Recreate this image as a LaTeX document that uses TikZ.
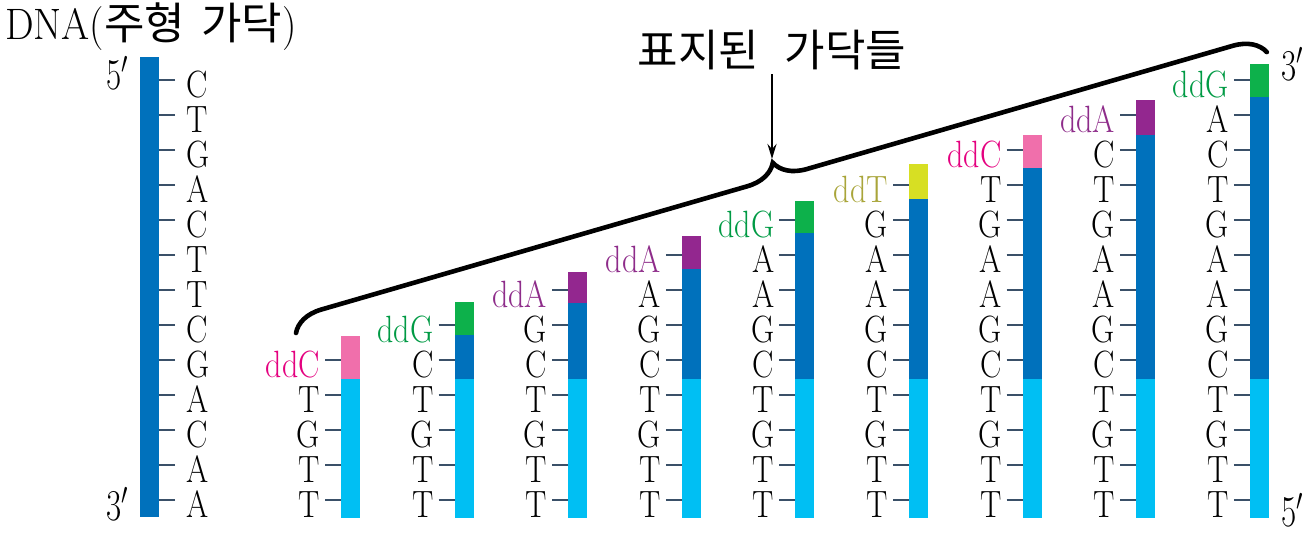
\RequirePackage{fix-cm}
\documentclass[tikz,border=0pt]{standalone}
\usepackage{fontspec}
\usepackage{graphicx}
\newfontfamily\kr{Noto Sans CJK KR}
\usetikzlibrary{decorations.pathreplacing,arrows.meta}
\definecolor{dkblue}{HTML}{0071BC}
\definecolor{ltblue}{HTML}{00BFF3}
\definecolor{pinkbar}{HTML}{F06FAB}
\definecolor{pinktxt}{HTML}{E4007F}
\definecolor{greenbar}{HTML}{0DB14B}
\definecolor{greentxt}{HTML}{009A44}
\definecolor{purplebar}{HTML}{93278F}
\definecolor{purpletxt}{HTML}{8E2C8A}
\definecolor{yellowbar}{HTML}{D7DF23}
\definecolor{yellowtxt}{HTML}{A9A53A}
\definecolor{tickc}{HTML}{3A5068}
\newcommand\narrowtxt[1]{\scalebox{0.84}[1]{#1}}
\begin{document}
\begin{tikzpicture}[x=1pt,y=-1pt,
  base/.style={font=\fontsize{38}{38}\selectfont\addfontfeatures{FakeBold=1}, inner sep=0pt},
  primelab/.style={font=\fontsize{44}{44}\selectfont, inner sep=0pt, anchor=base west},
  tickline/.style={draw=tickc, line width=1.6pt},
  bracestyle/.style={line width=4.6pt, line cap=round, decorate, decoration={brace, amplitude=31pt}},
  arrowstyle/.style={line width=2.3pt, -{Stealth[length=15pt,width=9pt,inset=5pt]}}]
\useasboundingbox (0,0) rectangle (1312,533);
% title
\node[anchor=base west, inner sep=0pt, font=\fontsize{44}{44}\selectfont] (title) at (5,39)
  {\scalebox{0.92}[1]{DNA(}{\kr\fontsize{44}{44}\selectfont 주형\hspace{16pt}가닥}\scalebox{0.92}[1]{)}};
% template strand
\fill[dkblue] (140,57) rectangle (159,517);
\node[primelab] (t5) at (106,89) {\scalebox{0.75}[1]{$5'$}};
\node[primelab] (t3) at (106,520) {\scalebox{0.75}[1]{$3'$}};
\foreach \L [count=\n] in {C,T,G,A,C,T,T,C,G,A,C,A,A}{
  \pgfmathsetmacro\ry{80+35*(\n-1)}
  \node[base, anchor=base west] (t\n) at (186,\ry+17) {\narrowtxt{\L}};
  \draw[tickline] ([xshift=-11pt,yshift=17pt]t\n.base west) -- ++(-16,0);
}
% fragments
\foreach \k/\top/\mid/\bc/\tc in {1/336/379/pinkbar/pinktxt,2/302/335/greenbar/greentxt,
  3/272/303/purplebar/purpletxt,4/236/269/purplebar/purpletxt,5/201/233/greenbar/greentxt,
  6/164/199/yellowbar/yellowtxt,7/135/168/pinkbar/pinktxt,8/100/135/purplebar/purpletxt,
  9/64/97/greenbar/greentxt}{
  \pgfmathsetmacro\xb{341+113.6*(\k-1)}
  \pgfmathtruncatemacro\nz{10-\k}
  \fill[\bc] (\xb,\top) rectangle (\xb+19,\mid);
  \fill[dkblue] (\xb,\mid) rectangle (\xb+19,379);
  \fill[ltblue] (\xb,379) rectangle (\xb+19,518);
  \foreach \L [count=\n] in {G,A,C,T,G,A,A,G,C,T,G,T,T}{
    \pgfmathsetmacro\ry{80+35*(\n-1)}
    \ifnum\n>\nz
      \node[base, anchor=base east] (f\k-\n) at (\xb-21,\ry+17) {\narrowtxt{\L}};
      \draw[tickline] ([xshift=5pt,yshift=17pt]f\k-\n.base east) -- ++(16,0);
    \fi
    \ifnum\n=\nz
      \node[base, anchor=base east, text=\tc] (f\k-\n) at (\xb-21,\ry+17) {\narrowtxt{dd\L}};
      \draw[tickline] ([xshift=5pt,yshift=17pt]f\k-\n.base east) -- ++(16,0);
    \fi
  }
}
\node[primelab] (f3p) at (1281,80) {\scalebox{0.75}[1]{$3'$}};
\node[primelab] (f5p) at (1281,526) {\scalebox{0.75}[1]{$5'$}};
% brace and label
\coordinate (bl) at (296,333);
\coordinate (br) at (1267,52);
\draw[bracestyle] (bl) -- (br);
\coordinate (tip) at (772,159);
\node[inner sep=0pt, font=\fontsize{44}{44}\selectfont\kr] (lab) at (772,50) {표지된\hspace{26pt}가닥들};
\draw[arrowstyle] ([yshift=-4pt]lab.south) -- (tip);
\end{tikzpicture}
\end{document}
